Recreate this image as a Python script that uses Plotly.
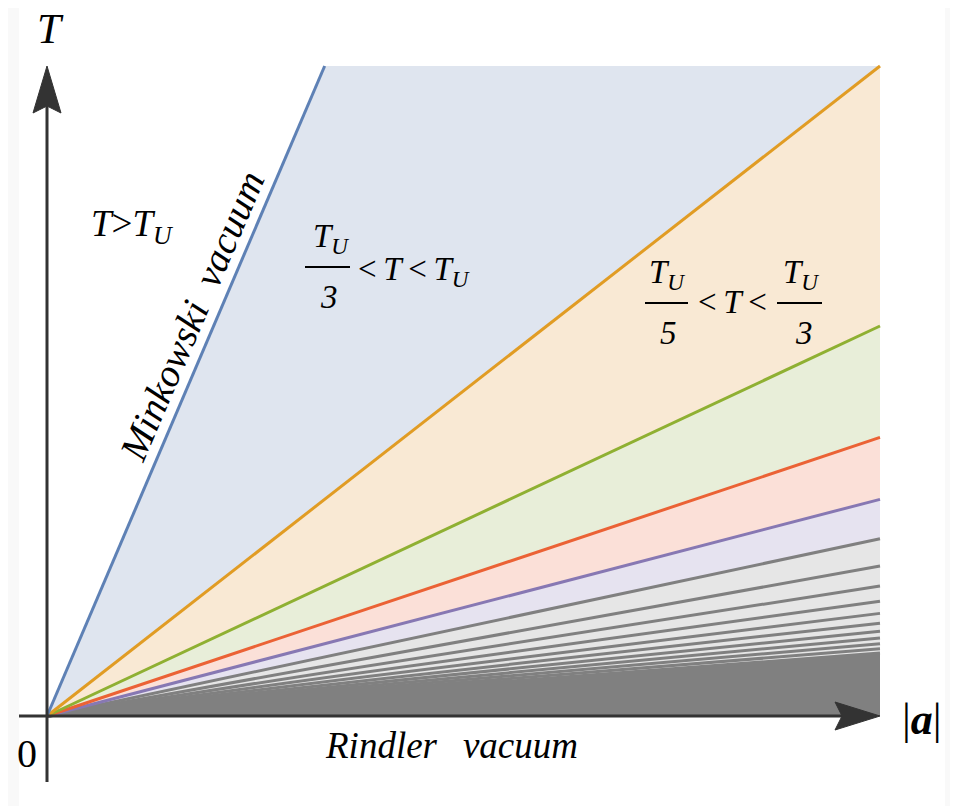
import plotly.graph_objects as go

# ---------------- data ----------------
a_max = 1.0          # right end of the |a| axis (plot units)
T_max = 1.0          # top of the T axis (plot units)
T_U_slope = 3.0      # T_U = slope * |a| in plot units
denominators = [1, 3, 5, 7, 9, 11, 13, 15, 17, 19, 21, 23, 25, 27, 29, 31]
line_colors = ["#5e81b5", "#e19c24", "#8fb032", "#eb6235", "#8778b3"] + ["#808080"] * 11
fill_colors = ["#dfe5ef", "#f9e9d4", "#e8eed9", "#fbe0d8", "#e6e3f0"] + ["#e6e6e6"] * 10
bottom_fill = "#808080"

# ---------------- pixel helpers (layout only; page pixels) ----------------
OX, OY, SX, SY = 47.0, 716.0, 833.0, 650.0
PAGE_OFF = 8  # body margin of the html page
def X(px): return (px - OX) / SX
def Y(py): return (OY - py) / SY

def line_end(d):
    s = T_U_slope / d
    if s * a_max > T_max:
        return (T_max / s, T_max)
    return (a_max, s * a_max)

fig = go.Figure()

for i in range(len(denominators) - 1):
    e1 = line_end(denominators[i])
    e2 = line_end(denominators[i + 1])
    xs = [0, e1[0]]
    ys = [0, e1[1]]
    if e1[1] >= T_max and e2[0] >= a_max and e2[1] < T_max:
        xs.append(a_max); ys.append(T_max)
    xs += [e2[0], 0]
    ys += [e2[1], 0]
    fig.add_trace(go.Scatter(x=xs, y=ys, mode="lines", fill="toself",
                             fillcolor=fill_colors[i], line=dict(width=0),
                             hoverinfo="skip", showlegend=False))

eL = line_end(denominators[-1])
fig.add_trace(go.Scatter(x=[0, eL[0], a_max, 0], y=[0, eL[1], 0, 0], mode="lines",
                         fill="toself", fillcolor=bottom_fill, line=dict(width=0),
                         hoverinfo="skip", showlegend=False))

for d, c in list(zip(denominators, line_colors))[::-1]:
    e = line_end(d)
    fig.add_trace(go.Scatter(x=[0, e[0]], y=[0, e[1]], mode="lines",
                             line=dict(color=c, width=3), hoverinfo="skip",
                             showlegend=False))

axis_col = "#333333"
shapes = [
    dict(type="rect", xref="x", yref="y", x0=X(19), x1=X(945), y0=Y(806), y1=Y(5),
         fillcolor="white", line=dict(width=0), layer="below"),
    dict(type="line", x0=0, x1=0, y0=Y(782), y1=T_max - 30 / SY,
         line=dict(color=axis_col, width=3)),
    dict(type="line", x0=X(19), x1=a_max - 30 / SX, y0=0, y1=0,
         line=dict(color=axis_col, width=3)),
]
vx, vy = 14 / SX, 47 / SY
shapes.append(dict(type="path",
                   path=f"M 0,{T_max} L {vx},{T_max - vy} L 0,{T_max - 40 / SY} L {-vx},{T_max - vy} Z",
                   fillcolor=axis_col, line=dict(color=axis_col, width=1)))
hx, hy = 45 / SX, 14 / SY
shapes.append(dict(type="path",
                   path=f"M {a_max},0 L {a_max - hx},{hy} L {a_max - 38 / SX},0 L {a_max - hx},{-hy} Z",
                   fillcolor=axis_col, line=dict(color=axis_col, width=1)))
for x0, x1, yy in [(305, 350, 267), (645, 688, 303), (777, 822, 303)]:
    shapes.append(dict(type="line", x0=X(x0), x1=X(x1), y0=Y(yy), y1=Y(yy),
                       line=dict(color="black", width=2)))

FONT = "Liberation Serif, Times New Roman, serif"
TS = "\u2009"  # thin space
def ann(text, px, py, size, angle=0, xanchor="center"):
    return dict(x=X(px), y=Y(py), text=text, showarrow=False, xanchor=xanchor,
                yanchor="middle", textangle=angle,
                font=dict(family=FONT, size=size, color="black"))

TU = "<i>T</i><sub><i>U</i></sub>"
annotations = [
    ann("<i>T</i>", 50, 28, 43),
    ann("0", 27, 753, 40),
    ann("|<b><i>a</i></b>|", 922, 719, 44),
    ann("<i>T</i>&gt;" + TU, 132, 226, 37),
    ann("<i>Minkowski  vacuum</i>", 191, 316, 39, angle=-66.8),
    ann("<i>Rindler  " + TS + "vacuum</i>", 451, 745, 37),
    ann(TU, 331, 238, 33),
    ann("<i>3</i>", 329, 297, 33),
    ann("&lt;" + TS + "<i>T</i>" + TS + "&lt;" + TS + TU, 356, 271, 33, xanchor="left"),
    ann(TU, 667, 274, 33),
    ann("<i>5</i>", 668, 333, 33),
    ann("&lt;" + TS + "<i>T</i>" + TS + "&lt;", 732, 302, 33),
    ann(TU, 801, 274, 33),
    ann("<i>3</i>", 804, 333, 33),
]

W, H = 958 - PAGE_OFF, 806 - PAGE_OFF
fig.update_layout(
    width=W, height=H, margin=dict(l=0, r=0, t=0, b=0),
    paper_bgcolor="#f9f9f9", plot_bgcolor="rgba(0,0,0,0)",
    xaxis=dict(range=[X(PAGE_OFF), X(958)], visible=False, fixedrange=True),
    yaxis=dict(range=[Y(806), Y(PAGE_OFF)], visible=False, fixedrange=True),
    shapes=shapes, annotations=annotations, showlegend=False,
)
fig.write_html("out.html")
